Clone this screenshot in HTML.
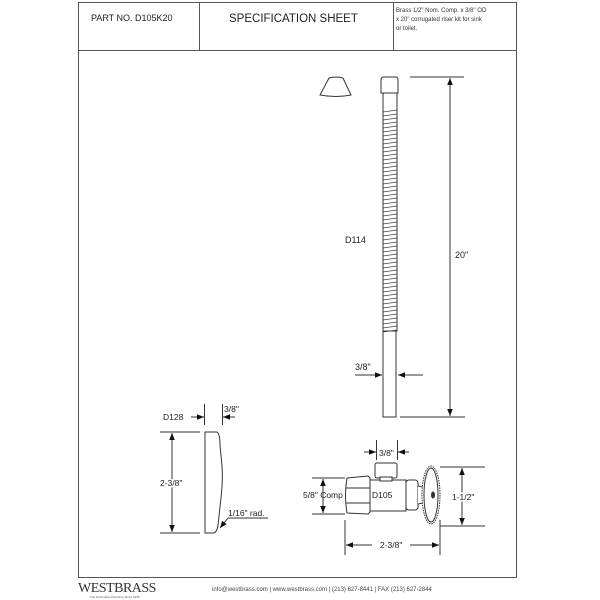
<!DOCTYPE html>
<html><head><style>
body{margin:0;background:#fff;}
svg{display:block;font-family:"Liberation Sans",sans-serif;}
</style></head><body>
<svg width="600" height="600" viewBox="0 0 600 600" xmlns="http://www.w3.org/2000/svg">
<defs>
<marker id="a" viewBox="0 0 10 10" refX="10" refY="5" markerWidth="7" markerHeight="7" orient="auto-start-reverse"><path d="M0,1 L10,5 L0,9z" fill="#111"/></marker>
</defs>
<g fill="none" stroke="#555" stroke-width="1">
<rect x="78.5" y="2.5" width="438" height="575"/>
<line x1="78" y1="50.5" x2="516" y2="50.5"/>
<line x1="199.5" y1="2" x2="199.5" y2="50"/>
<line x1="393.5" y1="2" x2="393.5" y2="50"/>
</g>
<text x="91" y="21" font-size="9" fill="#222">PART NO.  D105K20</text>
<text x="229" y="22" font-size="11.5" fill="#222">SPECIFICATION SHEET</text>
<text x="396" y="12" font-size="6" fill="#333">Brass 1/2" Nom. Comp. x 3/8" OD</text>
<text x="396" y="21" font-size="6" fill="#333">x 20" corrugated riser kit for sink</text>
<text x="396" y="30" font-size="6" fill="#333">or toilet.</text>

<g fill="none" stroke="#333" stroke-width="1">
<path d="M329,78 Q336,76 343,78 L351,95 Q336,98 320,95 Z"/>
<path d="M381,93 L381,80 Q381,77 384,77 L396,77 Q398,77 398,80 L398,93 Z"/>
<rect x="383" y="93" width="14" height="238"/>
<rect x="383" y="331" width="13" height="86"/>
</g>
<g stroke="#444" stroke-width="0.8">
<path d="M383,112 l14,-2 M383,116 l14,-2 M383,120 l14,-2 M383,124 l14,-2 M383,128 l14,-2 M383,132 l14,-2 M383,136 l14,-2 M383,140 l14,-2 M383,144 l14,-2 M383,148 l14,-2 M383,152 l14,-2 M383,156 l14,-2 M383,160 l14,-2 M383,164 l14,-2 M383,168 l14,-2 M383,172 l14,-2 M383,176 l14,-2 M383,180 l14,-2 M383,184 l14,-2 M383,188 l14,-2 M383,192 l14,-2 M383,196 l14,-2 M383,200 l14,-2 M383,204 l14,-2 M383,208 l14,-2 M383,212 l14,-2 M383,216 l14,-2 M383,220 l14,-2 M383,224 l14,-2 M383,228 l14,-2 M383,232 l14,-2 M383,236 l14,-2 M383,240 l14,-2 M383,244 l14,-2 M383,248 l14,-2 M383,252 l14,-2 M383,256 l14,-2 M383,260 l14,-2 M383,264 l14,-2 M383,268 l14,-2 M383,272 l14,-2 M383,276 l14,-2 M383,280 l14,-2 M383,284 l14,-2 M383,288 l14,-2 M383,292 l14,-2 M383,296 l14,-2 M383,300 l14,-2 M383,304 l14,-2 M383,308 l14,-2 M383,312 l14,-2 M383,316 l14,-2 M383,320 l14,-2 M383,324 l14,-2 M383,328 l14,-2 M383,332 l14,-2"/>
</g>
<g stroke="#333" stroke-width="1" fill="none">
<line x1="410" y1="77" x2="464" y2="77"/>
<line x1="400" y1="417" x2="465" y2="417"/>
<line x1="450" y1="78" x2="450" y2="416" marker-start="url(#a)" marker-end="url(#a)"/>
<line x1="355" y1="375" x2="382" y2="375" marker-end="url(#a)"/>
<line x1="423" y1="375" x2="398" y2="375" marker-end="url(#a)"/>
</g>
<text x="345" y="243" font-size="9" fill="#222">D114</text>
<text x="455" y="258" font-size="9" fill="#222">20"</text>
<text x="355" y="370" font-size="9" fill="#222">3/8"</text>

<g stroke="#333" stroke-width="1" fill="none">
<path d="M205,432 L217,432 Q220,434 220,445 L222,466 Q223,480 221,498 L218,525 Q217,532 214,533 L205,533 Z"/>
<line x1="160" y1="432" x2="200" y2="432"/>
<line x1="160" y1="533" x2="200" y2="533"/>
<line x1="172" y1="433" x2="172" y2="532" marker-start="url(#a)" marker-end="url(#a)"/>
<line x1="204.5" y1="404" x2="204.5" y2="425"/>
<line x1="222.5" y1="404" x2="222.5" y2="425"/>
<line x1="191" y1="417" x2="204" y2="417" marker-end="url(#a)"/>
<line x1="235" y1="417" x2="223" y2="417" marker-end="url(#a)"/>
<path d="M228,518 L220,528" marker-end="url(#a)"/>
<line x1="228" y1="518" x2="268" y2="518"/>
</g>
<text x="163" y="420" font-size="8.5" fill="#222">D128</text>
<text x="224" y="412" font-size="8.5" fill="#222">3/8"</text>
<text x="160" y="486" font-size="8.5" fill="#222" stroke="#fff" stroke-width="3" paint-order="stroke">2-3/8"</text>
<text x="228" y="516" font-size="8.5" fill="#222">1/16" rad.</text>

<g stroke="#333" stroke-width="1" fill="#fff">
<path d="M347,478 L368,476 L370,478 L370,512 L368,514 L347,513 Q344,495 347,478 Z"/>
<line x1="346" y1="488" x2="370" y2="488"/><line x1="346" y1="503" x2="370" y2="503"/>
<rect x="370" y="480" width="36" height="31"/>
<rect x="375" y="463" width="22" height="15" rx="2"/>
<rect x="380" y="477" width="12" height="4"/>
<rect x="406" y="480" width="12" height="30" rx="3"/>
<path d="M418,486 L428,488 L428,502 L418,504"/>
<ellipse cx="431" cy="495" rx="9" ry="29" stroke-dasharray="1.5 1"/>
<ellipse cx="431" cy="495" rx="7" ry="27"/>
<ellipse cx="433" cy="495" rx="1.5" ry="3" fill="#333"/>
</g>
<g stroke="#333" stroke-width="1" fill="none">
<line x1="440" y1="467" x2="485" y2="467"/>
<line x1="440" y1="526" x2="485" y2="526"/>
<line x1="462" y1="468" x2="462" y2="525" marker-start="url(#a)" marker-end="url(#a)"/>
<line x1="312" y1="478" x2="345" y2="478"/>
<line x1="312" y1="514" x2="345" y2="514"/>
<line x1="323" y1="479" x2="323" y2="513" marker-start="url(#a)" marker-end="url(#a)"/>
<line x1="345" y1="520" x2="345" y2="555"/>
<line x1="440" y1="520" x2="440" y2="555"/>
<line x1="346" y1="545" x2="372" y2="545" marker-start="url(#a)"/>
<line x1="410" y1="545" x2="439" y2="545" marker-end="url(#a)"/>
<line x1="376.5" y1="440" x2="376.5" y2="460"/>
<line x1="397.5" y1="440" x2="397.5" y2="460"/>
<line x1="364" y1="452" x2="376" y2="452" marker-end="url(#a)"/>
<line x1="409" y1="452" x2="398" y2="452" marker-end="url(#a)"/>
</g>
<text x="379" y="456" font-size="8.5" fill="#222">3/8"</text>
<text x="303" y="498" font-size="8.5" fill="#222">5/8" Comp</text>
<text x="372" y="498" font-size="8.5" fill="#222">D105</text>
<text x="452" y="500" font-size="8.5" fill="#222" stroke="#fff" stroke-width="3" paint-order="stroke">1-1/2"</text>
<text x="380" y="548" font-size="8.5" fill="#222">2-3/8"</text>

<text x="78" y="592" font-size="14" font-family="Liberation Serif,serif" fill="#333" letter-spacing="-0.5">WESTBRASS</text>
<text x="90" y="598" font-size="3" fill="#555">The Decorative Plumbing Since 1955</text>
<text x="212" y="591" font-size="6" fill="#444">info@westbrass.com | www.westbrass.com  |  (213) 627-8441  |  FAX (213) 627-2844</text>
</svg>
</body></html>
